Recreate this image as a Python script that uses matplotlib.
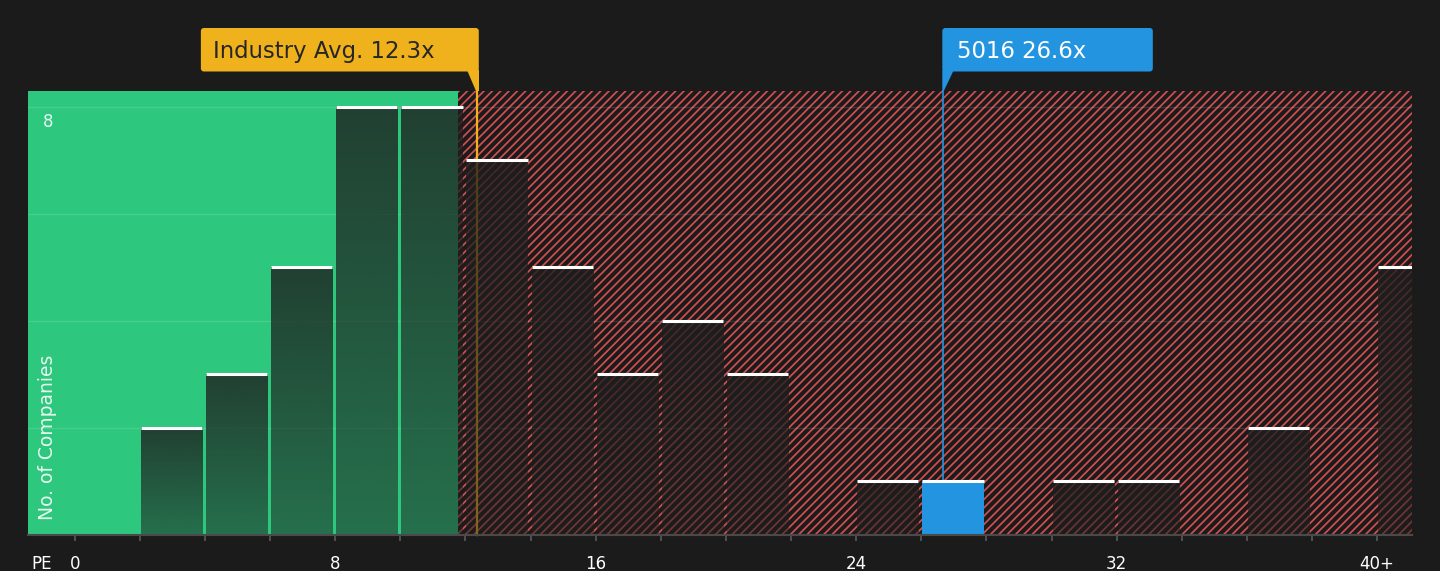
import math
import numpy as np
import matplotlib
matplotlib.use('Agg')
import matplotlib.pyplot as plt
from matplotlib.patches import Rectangle, FancyBboxPatch, Polygon
import matplotlib.transforms as mtransforms

# ---- data ----
bin_starts = list(range(0, 42, 2))          # 0,2,...,40 (40 = "40+")
counts = [0, 2, 3, 5, 8, 8, 7, 5, 3, 4, 3, 0, 1, 1, 0, 1, 1, 0, 2, 0, 5]
tick_values = [0, 8, 16, 24, 32, 40]
tick_labels = ['0', '8', '16', '24', '32', '40+']
industry_avg = 12.37
company_pe = 26.66
company_name = '5016'
green_until = 11.78
bin_width = 2


def trunc1(v):
    return f'{math.floor(v * 10) / 10:.1f}'


# ---- style ----
BG = '#1b1b1b'
GREEN = '#2ec77e'
RED = '#d24f50'
BLUE = '#2394e0'
ORANGE = '#efb21c'
plt.rcParams['font.family'] = ['DejaVu Sans']
plt.rcParams['hatch.linewidth'] = 1.25

W, H = 1440, 571
fig = plt.figure(figsize=(W / 100, H / 100), dpi=100, facecolor=BG)
ax = fig.add_axes([27.9 / W, 36 / H, (1411.7 - 27.9) / W, 444 / H])
ax.set_facecolor(BG)
xmin, xmax = -1.437, 41.06
ymax = 8.29
ax.set_xlim(xmin, xmax)
ax.set_ylim(0, ymax)

# background zones
ax.add_patch(Rectangle((xmin, 0), green_until - xmin, ymax, facecolor=GREEN,
                       lw=0, zorder=0))
ax.add_patch(Rectangle((green_until, 0), xmax - green_until, ymax, facecolor=BG,
                       edgecolor=RED, hatch='////', lw=0, zorder=0))

# grid
for gy in [2, 4, 6, 8]:
    ax.axhline(gy, color='white', alpha=0.12, lw=1.0, zorder=1)

# reference lines
ax.plot([industry_avg, industry_avg], [0, ymax], color=ORANGE, lw=1.6,
        zorder=2, clip_on=False)
ax.plot([company_pe, company_pe], [0, ymax], color=BLUE, lw=1.2,
        zorder=2, clip_on=False)

# bars
bw = 1.88
off = 0.03
grad = np.zeros((64, 1, 4))
grad[..., :3] = 30 / 255
grad[:, 0, 3] = np.linspace(0.52, 0.80, 64)
for s, c in zip(bin_starts, counts):
    if c == 0:
        continue
    left = s + off
    if s <= company_pe < s + bin_width:
        ax.add_patch(Rectangle((left, 0), bw, c, facecolor=BLUE, lw=0, zorder=3))
    else:
        ax.imshow(grad, extent=(left, left + bw, 0, c), origin='lower',
                  aspect='auto', interpolation='bilinear', zorder=3)
    ax.plot([left, left + bw], [c, c], color='white', lw=2.2,
            solid_capstyle='butt', zorder=4)

ax.set_xlim(xmin, xmax)
ax.set_ylim(0, ymax)

# axes styling
for side in ['top', 'left', 'right']:
    ax.spines[side].set_visible(False)
ax.spines['bottom'].set_color('#4a4a4a')
ax.spines['bottom'].set_linewidth(1.5)
ax.spines['bottom'].set_zorder(5)
all_ticks = list(range(0, 41, 2))
lab_map = dict(zip(tick_values, tick_labels))
ax.set_xticks(all_ticks)
ax.set_xticklabels([lab_map.get(t, '') for t in all_ticks])
ax.tick_params(axis='x', colors='#5a5a5a', length=4.5, width=1.2,
               direction='out', labelcolor='white', labelsize=12, pad=10)
ax.set_yticks([])

blend = mtransforms.blended_transform_factory(ax.transAxes, ax.transData)
ax.annotate('8', xy=(0.0145, 8), xycoords=blend, xytext=(0, -4.5),
            textcoords='offset points', ha='center', va='top',
            color='#e8f8ef', fontsize=12, zorder=6)
ax.text(0.0145, 0.28, 'No. of Companies', transform=blend, rotation=90,
        ha='center', va='bottom', fontsize=13.5, color='#e6f7ee', zorder=6)
ax.annotate('PE', xy=(0.0102, 0), xycoords='axes fraction', xytext=(0, -21.2),
            textcoords='offset points', ha='center', va='center',
            color='white', fontsize=12)

# ---- callouts (pixel overlay) ----
ov = fig.add_axes([0, 0, 1, 1])
ov.set_xlim(0, W)
ov.set_ylim(H, 0)
ov.axis('off')

top_px = H - ax.transAxes.transform((0, 1))[1]
px_ind = ax.transData.transform((industry_avg, 0))[0]
px_co = ax.transData.transform((company_pe, 0))[0]

ov.add_patch(FancyBboxPatch((px_ind - 276.6, 28), 277.9, 43.5,
                            boxstyle='round,pad=0,rounding_size=3',
                            fc=ORANGE, ec='none'))
ov.add_patch(Polygon([(px_ind - 10, 70), (px_ind + 1.3, 70),
                      (px_ind + 1.3, top_px), (px_ind - 1, top_px)],
                     closed=True, fc=ORANGE, ec='none'))
ov.text(px_ind - 264.5, 58, f'Industry Avg. {trunc1(industry_avg)}x',
        fontsize=16.4, color='#262626', ha='left', va='baseline')

ov.add_patch(FancyBboxPatch((px_co - 0.5, 28), 210.5, 43.5,
                            boxstyle='round,pad=0,rounding_size=3',
                            fc=BLUE, ec='none'))
ov.add_patch(Polygon([(px_co - 0.5, 70), (px_co + 11, 70),
                      (px_co + 1, top_px), (px_co - 0.5, top_px)],
                     closed=True, fc=BLUE, ec='none'))
ov.text(px_co + 14.5, 58, f'{company_name} {trunc1(company_pe)}x',
        fontsize=16.4, color='white', ha='left', va='baseline')

fig.savefig('out.png', dpi=100, facecolor=BG)
